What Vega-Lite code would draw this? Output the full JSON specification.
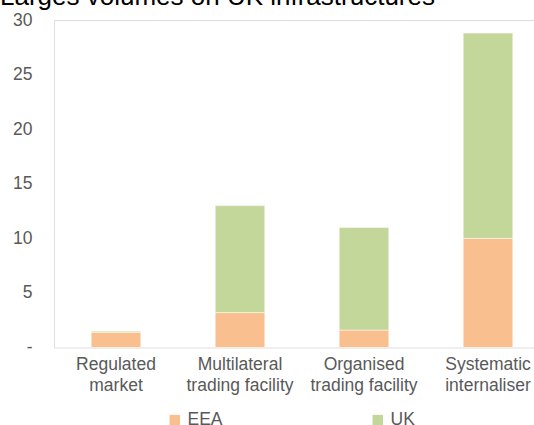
{
  "$schema": "https://vega.github.io/schema/vega-lite/v6.json",
  "autosize": "none",
  "width": 496,
  "height": 327.5,
  "padding": {"left": 54, "top": 20, "right": 0, "bottom": 77.5},
  "background": "white",
  "title": {
    "text": "Larges volumes on UK infrastructures",
    "anchor": "start",
    "frame": "group",
    "orient": "top",
    "baseline": "alphabetic",
    "font": "Liberation Sans",
    "fontSize": 26,
    "fontWeight": "normal",
    "color": "#000000",
    "dx": -54,
    "dy": 20,
    "offset": 0
  },
  "data": {
    "values": [
      {"category": "Regulated market", "region": "EEA", "value": 1.4},
      {"category": "Regulated market", "region": "UK", "value": 0.1},
      {"category": "Multilateral trading facility", "region": "EEA", "value": 3.2},
      {"category": "Multilateral trading facility", "region": "UK", "value": 9.8},
      {"category": "Organised trading facility", "region": "EEA", "value": 1.6},
      {"category": "Organised trading facility", "region": "UK", "value": 9.4},
      {"category": "Systematic internaliser", "region": "EEA", "value": 10.0},
      {"category": "Systematic internaliser", "region": "UK", "value": 18.8}
    ]
  },
  "mark": {"type": "bar", "stroke": "#ffffff", "strokeWidth": 0.5},
  "encoding": {
    "x": {
      "field": "category",
      "type": "nominal",
      "sort": null,
      "scale": {"paddingInner": 0.6, "paddingOuter": 0.3},
      "axis": {
        "title": null,
        "labelAngle": 0,
        "domain": false,
        "ticks": false,
        "labelPadding": 8,
        "labelFont": "Liberation Sans",
        "labelFontSize": 17.5,
        "labelColor": "#595959",
        "labelLineHeight": 21,
        "labelLimit": 300,
        "labelExpr": "[slice(datum.label, 0, indexof(datum.label, ' ')), slice(datum.label, indexof(datum.label, ' ') + 1)]"
      }
    },
    "y": {
      "field": "value",
      "type": "quantitative",
      "stack": "zero",
      "scale": {"domain": [0, 30], "nice": false},
      "axis": {
        "title": null,
        "values": [0, 5, 10, 15, 20, 25, 30],
        "grid": false,
        "domain": false,
        "ticks": false,
        "labelPadding": 22,
        "labelFont": "Liberation Sans",
        "labelFontSize": 17.5,
        "labelColor": "#595959",
        "labelExpr": "datum.value == 0 ? '-\u00a0\u00a0' : datum.label"
      }
    },
    "order": {"field": "region", "sort": "ascending"},
    "color": {
      "field": "region",
      "type": "nominal",
      "scale": {"domain": ["EEA", "UK"], "range": ["#F9BF8F", "#C4D79B"]},
      "legend": {
        "title": null,
        "orient": "none",
        "direction": "horizontal",
        "legendX": 112,
        "legendY": 391,
        "padding": 0,
        "symbolType": "square",
        "symbolSize": 110,
        "symbolStrokeWidth": 0,
        "labelOffset": 4,
        "columnPadding": 146,
        "labelFont": "Liberation Sans",
        "labelFontSize": 17.5,
        "labelColor": "#595959"
      }
    }
  }
}
